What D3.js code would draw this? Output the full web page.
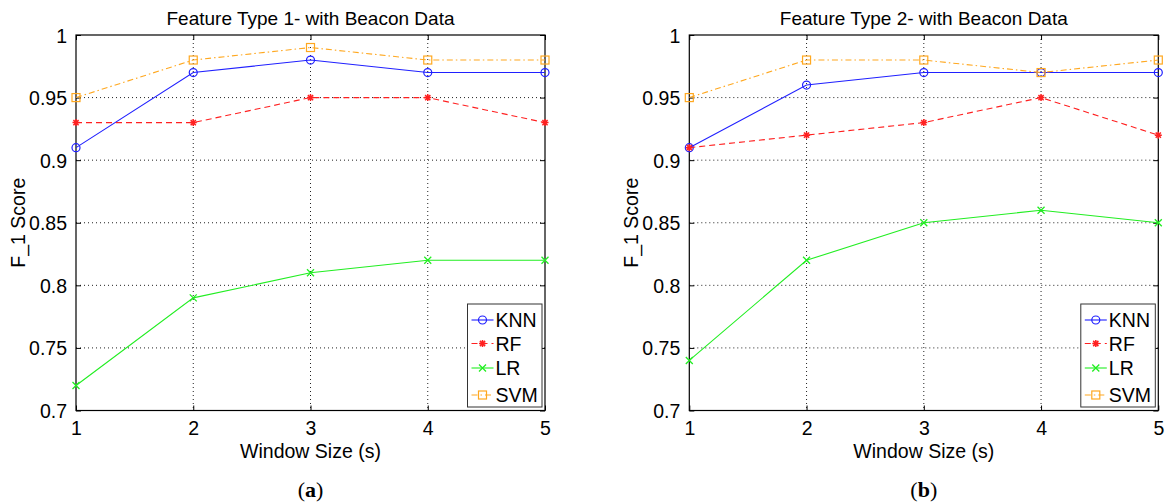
<!DOCTYPE html>
<html>
<head>
<meta charset="utf-8">
<script src="https://cdn.jsdelivr.net/npm/d3@7"></script>
<style>
  body { margin: 0; background: #fff; }
  svg { display: block; font-family: "Liberation Sans", Arial, sans-serif; }
</style>
</head>
<body>
<svg id="chart" width="1165" height="504"></svg>
<script>
// ---- data ----
const windowSizes = [1, 2, 3, 4, 5];
const yTicks = [0.7, 0.75, 0.8, 0.85, 0.9, 0.95, 1];
const yTickLabels = ["0.7", "0.75", "0.8", "0.85", "0.9", "0.95", "1"];
const seriesNames = ["KNN", "RF", "LR", "SVM"];

const titleA = "Feature Type 1- with Beacon Data";
const knnA = [0.91, 0.97, 0.98, 0.97, 0.97];
const rfA  = [0.93, 0.93, 0.95, 0.95, 0.93];
const lrA  = [0.72, 0.79, 0.81, 0.82, 0.82];
const svmA = [0.95, 0.98, 0.99, 0.98, 0.98];

const titleB = "Feature Type 2- with Beacon Data";
const knnB = [0.91, 0.96, 0.97, 0.97, 0.97];
const rfB  = [0.91, 0.92, 0.93, 0.95, 0.92];
const lrB  = [0.74, 0.82, 0.85, 0.86, 0.85];
const svmB = [0.95, 0.98, 0.98, 0.97, 0.98];

// ---- styles ----
const styles = {
  KNN: { color: "#2020ff", dash: null, marker: "circle" },
  RF:  { color: "#ff2020", dash: "6,4", marker: "star" },
  LR:  { color: "#22ee22", dash: null, marker: "x" },
  SVM: { color: "#ffa820", dash: "6,3,1.5,3", marker: "square" }
};

const svg = d3.select("#chart");

function drawMarker(g, type, x, y, color) {
  if (type === "circle") {
    g.append("circle").attr("cx", x).attr("cy", y).attr("r", 4)
      .attr("fill", "none").attr("stroke", color).attr("stroke-width", 1.2);
  } else if (type === "square") {
    g.append("rect").attr("x", x - 4).attr("y", y - 4).attr("width", 8).attr("height", 8)
      .attr("fill", "none").attr("stroke", color).attr("stroke-width", 1.2);
  } else if (type === "x") {
    const s = 3.5;
    g.append("path").attr("d", `M${x-s},${y-s}L${x+s},${y+s}M${x-s},${y+s}L${x+s},${y-s}`)
      .attr("stroke", color).attr("stroke-width", 1.3);
  } else if (type === "star") {
    const s = 3.5, d = 2.6;
    g.append("path").attr("d",
      `M${x-s},${y}L${x+s},${y}M${x},${y-s}L${x},${y+s}M${x-d},${y-d}L${x+d},${y+d}M${x-d},${y+d}L${x+d},${y-d}`)
      .attr("stroke", color).attr("stroke-width", 1.5);
  }
}

function drawPanel(left, title, data, caption) {
  const top = 35, bottom = 410.5, right = left + 469;
  const x = d3.scaleLinear().domain([1, 5]).range([left, right]);
  const y = d3.scaleLinear().domain([0.7, 1]).range([bottom, top]);
  const g = svg.append("g");

  // grid
  g.append("g").selectAll("line").data(windowSizes.slice(1, -1)).join("line")
    .attr("x1", d => x(d)).attr("x2", d => x(d)).attr("y1", top).attr("y2", bottom)
    .attr("stroke", "#222").attr("stroke-width", 1).attr("stroke-dasharray", "1,3");
  g.append("g").selectAll("line").data(yTicks.slice(1, -1)).join("line")
    .attr("y1", d => y(d)).attr("y2", d => y(d)).attr("x1", left).attr("x2", right)
    .attr("stroke", "#222").attr("stroke-width", 1).attr("stroke-dasharray", "1,3");

  // axes via d3
  const yAxis = d3.axisLeft(y).tickValues(yTicks).tickFormat((d, i) => yTickLabels[i])
    .tickSizeInner(-5).tickSizeOuter(0).tickPadding(9);
  const yG = g.append("g").attr("transform", "translate(" + left + ",0)").call(yAxis);
  const yAxisR = d3.axisRight(y).tickValues(yTicks).tickFormat("").tickSizeInner(-5).tickSizeOuter(0);
  g.append("g").attr("transform", "translate(" + right + ",0)").call(yAxisR);
  const xAxis = d3.axisBottom(x).tickValues(windowSizes).tickFormat(d3.format("d"))
    .tickSizeInner(-5).tickSizeOuter(0).tickPadding(11);
  const xG = g.append("g").attr("transform", "translate(0," + bottom + ")").call(xAxis);
  const xAxisT = d3.axisTop(x).tickValues(windowSizes).tickFormat("").tickSizeInner(-5).tickSizeOuter(0);
  g.append("g").attr("transform", "translate(0," + top + ")").call(xAxisT);
  g.selectAll(".domain").remove();
  g.selectAll(".tick line").attr("stroke", "#000");
  g.selectAll(".tick text").attr("font-size", 19.5).attr("fill", "#000")
    .attr("font-family", "'Liberation Sans', Arial, sans-serif");
  yG.selectAll(".tick text").attr("dy", "0.36em");

  // box
  g.append("rect").attr("x", left).attr("y", top).attr("width", right - left).attr("height", bottom - top)
    .attr("fill", "none").attr("stroke", "#000").attr("stroke-width", 1.2);

  // series
  const line = d3.line().x((d, i) => x(windowSizes[i])).y(d => y(d));
  seriesNames.forEach((name, k) => {
    const st = styles[name];
    g.append("path").datum(data[k]).attr("d", line)
      .attr("fill", "none").attr("stroke", st.color).attr("stroke-width", 1.1)
      .attr("stroke-dasharray", st.dash);
    data[k].forEach((v, i) => drawMarker(g, st.marker, x(windowSizes[i]), y(v), st.color));
  });

  // title & labels
  const cx = (left + right) / 2;
  g.append("text").attr("x", cx).attr("y", 25).attr("text-anchor", "middle")
    .attr("font-size", 19).text(title);
  g.append("text").attr("x", cx).attr("y", 458).attr("text-anchor", "middle")
    .attr("font-size", 19.5).text("Window Size (s)");
  g.append("text").attr("transform", `translate(${left - 51},${(top + bottom) / 2}) rotate(-90)`)
    .attr("text-anchor", "middle").attr("font-size", 19.5).text("F_1 Score");
  const cap = g.append("text").attr("x", cx).attr("y", 497).attr("text-anchor", "middle")
    .attr("font-family", "'Liberation Serif', 'DejaVu Serif', serif").attr("font-size", 22);
  cap.append("tspan").text("(");
  cap.append("tspan").attr("font-weight", "bold").text(caption);
  cap.append("tspan").text(")");

  // legend
  const lx = right - 77.5, ly = 304, lw = 74.5, lh = 103;
  const lg = g.append("g");
  lg.append("rect").attr("x", lx).attr("y", ly).attr("width", lw).attr("height", lh)
    .attr("fill", "#fff").attr("stroke", "#333").attr("stroke-width", 1);
  const rowY = [320, 343.5, 368, 395];
  seriesNames.forEach((name, k) => {
    const st = styles[name];
    lg.append("line").attr("x1", lx + 4).attr("x2", lx + 26).attr("y1", rowY[k]).attr("y2", rowY[k])
      .attr("stroke", st.color).attr("stroke-width", 1.1).attr("stroke-dasharray", st.dash);
    drawMarker(lg, st.marker, lx + 15, rowY[k], st.color);
    lg.append("text").attr("x", lx + 28).attr("y", rowY[k]).attr("dy", "0.36em")
      .attr("font-size", 19.5).text(name);
  });
}

drawPanel(76, titleA, [knnA, rfA, lrA, svmA], "a");
drawPanel(689.3, titleB, [knnB, rfB, lrB, svmB], "b");
</script>
</body>
</html>
